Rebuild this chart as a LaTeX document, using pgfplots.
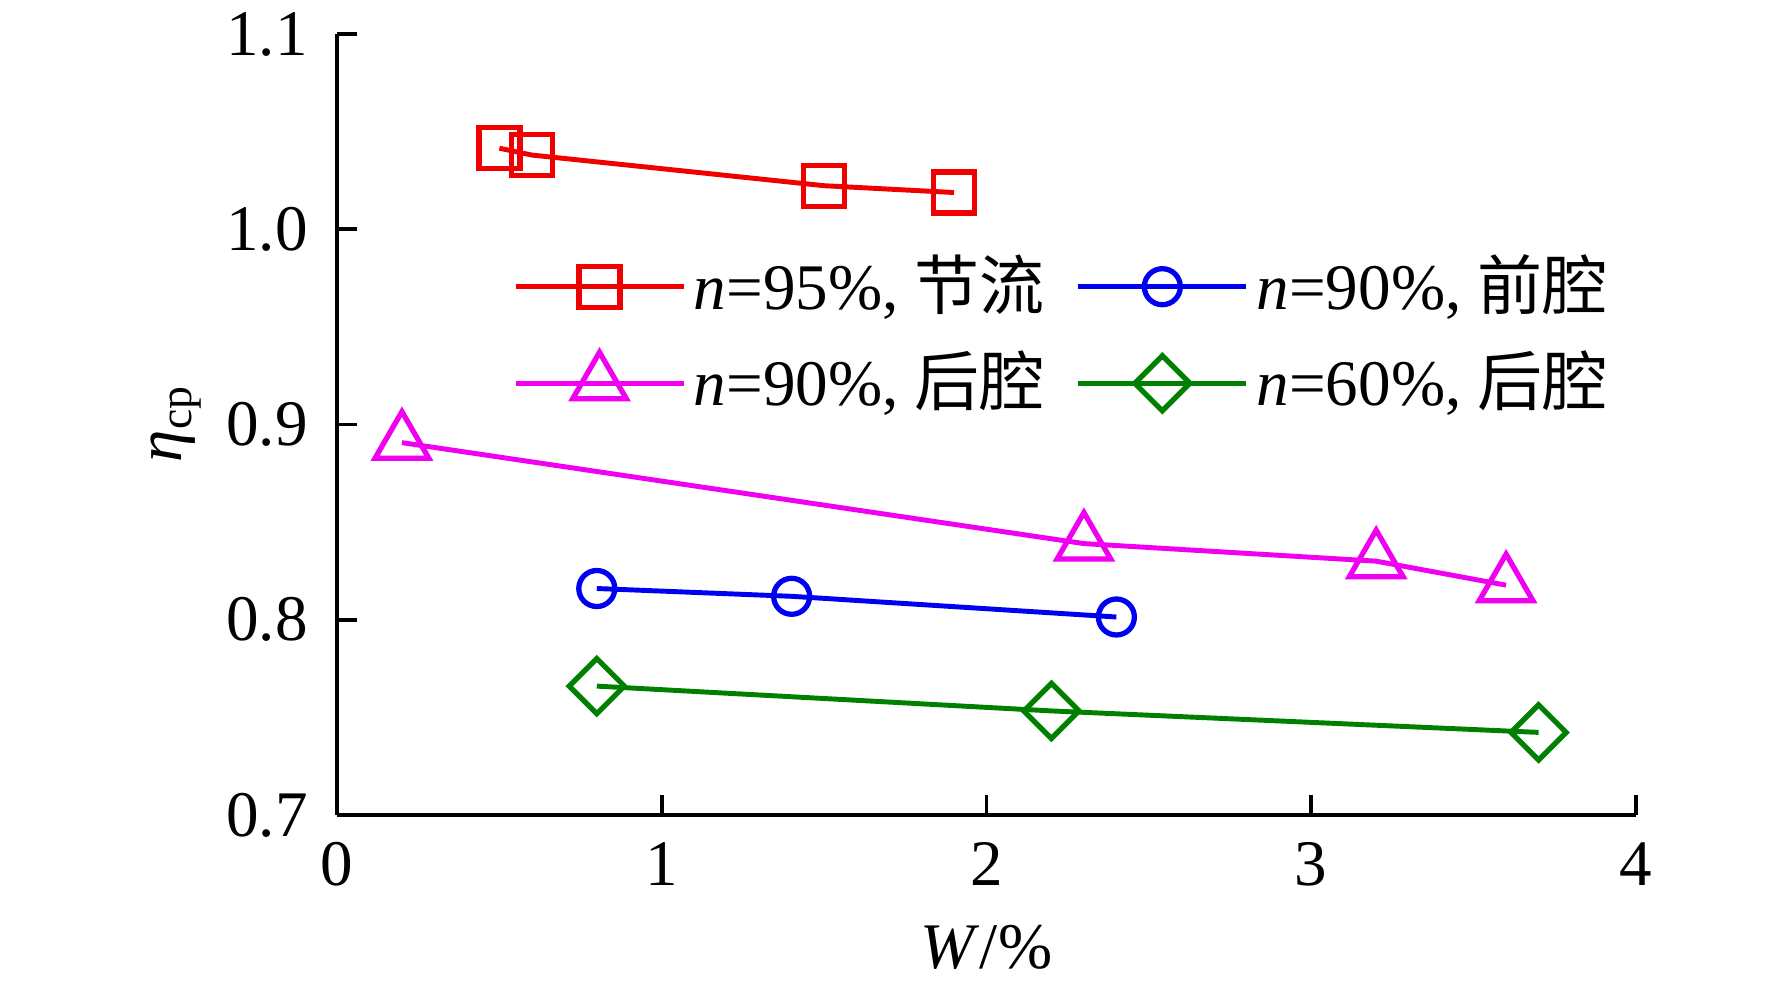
\documentclass[border=0pt]{standalone}
\usepackage{pgfplots}
\pgfplotsset{compat=1.18}
\usepackage{fontspec}
\setmainfont{Liberation Serif}
\newfontfamily\cjk{Noto Sans CJK SC}
\definecolor{cred}{RGB}{240,0,0}
\definecolor{cblue}{RGB}{0,0,240}
\definecolor{cmag}{RGB}{240,0,240}
\definecolor{cgreen}{RGB}{0,128,0}
\begin{document}
\fontsize{18.5pt}{22pt}\selectfont
\begin{tikzpicture}
\begin{axis}[
  scale only axis, width=129.9mm, height=78.1mm,
  xmin=0, xmax=4, ymin=0.7, ymax=1.1,
  axis x line=bottom, axis y line=left,
  axis line style={-, line width=1.1pt, black},
  xtick={0,1,2,3,4}, ytick={0.7,0.8,0.9,1.0,1.1},
  tick align=inside, major tick length=2mm,
  tick style={line width=1.1pt, black},
  /pgf/number format/assume math mode=true,
  yticklabel style={/pgf/number format/fixed, /pgf/number format/fixed zerofill, /pgf/number format/precision=1, xshift=-0.7mm},
  xticklabel style={yshift=-0.5mm},
  clip=false,
  xlabel={\textit{W}/\%},
  ylabel={\textit{η}\raisebox{-0.35ex}{\fontsize{13pt}{14pt}\selectfont cp}},
  xlabel style={at={(axis description cs:0.5,-0.17)}, anchor=center},
  ylabel style={at={(axis description cs:-0.124,0.5)}, anchor=center, rotate=0},
  legend columns=2,
  legend cell align=left,
  legend image code/.code={\draw[mark repeat=2,mark phase=2] plot coordinates {(0mm,0mm)(8.4mm,0mm)(16.8mm,0mm)};},
  legend style={draw=none, fill=none, at={(axis description cs:0.135,0.729)}, anchor=north west,
    /tikz/every even column/.append style={column sep=2.3mm},
    row sep=1.6mm, inner sep=0pt,
    nodes={inner sep=0.8mm}},
  every axis plot/.append style={line width=1.4pt},
]
\addplot[cred, mark=square, mark size=2.05mm, mark options={line width=1.5pt}]
  coordinates {(0.5,1.0415) (0.6,1.038) (1.5,1.0223) (1.9,1.0188)};
\addlegendentry{\textit{n}=95\%, {\cjk 节流}}
\addplot[cblue, mark=o, mark size=1.8mm, mark options={line width=1.5pt}]
  coordinates {(0.8,0.816) (1.4,0.812) (2.4,0.8014)};
\addlegendentry{\textit{n}=90\%, {\cjk 前腔}}
\addplot[cmag, mark=triangle, mark size=3.1mm, mark options={line width=1.5pt}]
  coordinates {(0.2,0.8907) (2.3,0.839) (3.2,0.830) (3.6,0.8177)};
\addlegendentry{\textit{n}=90\%, {\cjk 后腔}}
\addplot[cgreen, mark=square, mark size=1.95mm, mark options={line width=1.5pt, rotate=45}]
  coordinates {(0.8,0.766) (2.2,0.7533) (3.7,0.7423)};
\addlegendentry{\textit{n}=60\%, {\cjk 后腔}}
\end{axis}
\pgfresetboundingbox
\path (-33.7mm,-17.0mm) rectangle (143.5mm,81.5mm);
\end{tikzpicture}
\end{document}
